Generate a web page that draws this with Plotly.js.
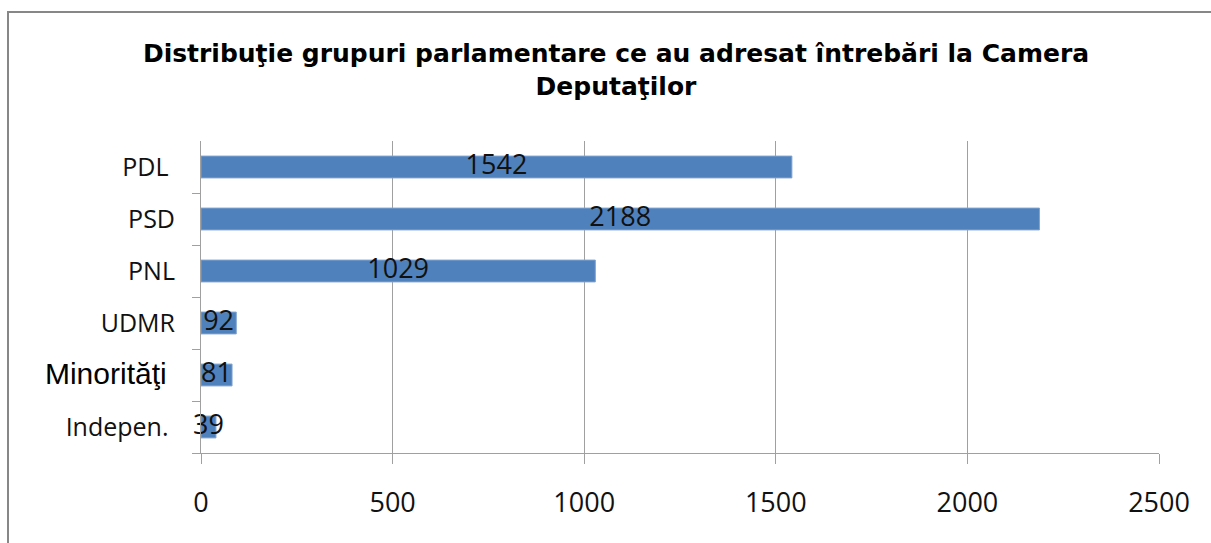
<!DOCTYPE html>
<html>
<head>
<meta charset="utf-8">
<script src="https://cdn.plot.ly/plotly-3.0.1.min.js"></script>
<style>
html,body{margin:0;padding:0;background:#fff;overflow:hidden;}
#wrap{position:relative;width:1211px;height:543px;overflow:hidden;}
#chart{position:absolute;left:0;top:0;width:1211px;height:543px;}
#frame{position:absolute;left:7px;top:11px;width:1400px;height:700px;border:2px solid #878787;pointer-events:none;box-sizing:border-box;}
</style>
</head>
<body>
<div id="wrap"><div id="chart"></div><div id="frame"></div></div>
<script>
const categories = ["PDL", "PSD", "PNL", "UDMR", "Minorităţi", "Indepen."];
const tickLabels = ["PDL ", "PSD", "PNL", "UDMR", "<span style='font-family:Liberation Sans;font-size:30px;color:#000'>Minorităţi </span>", "Indepen. "];
const values = [1542, 2188, 1029, 92, 81, 39];
const xTicks = [0, 500, 1000, 1500, 2000, 2500];
const titleText = "Distribuţie grupuri parlamentare ce au adresat întrebări la Camera<br>Deputaţilor";

const barTrace = {
  type: 'bar',
  orientation: 'h',
  y: categories,
  x: values,
  width: 0.42,
  marker: {color: '#4F81BD', line: {color: '#7FA2CF', width: 1}},
  hoverinfo: 'none',
  showlegend: false
};
const labelTrace = {
  type: 'scatter',
  mode: 'text',
  y: categories,
  x: values.map(v => v / 2),
  text: values.map(String),
  textposition: 'middle center',
  textfont: {family: 'Open Sans', size: 27, color: '#111'},
  hoverinfo: 'none',
  showlegend: false,
  cliponaxis: false
};

const layout = {
  width: 1211, height: 543,
  margin: {l: 201, r: 52, t: 141, b: 90},
  paper_bgcolor: '#fff', plot_bgcolor: '#fff',
  title: {
    text: titleText,
    font: {family: 'DejaVu Sans', size: 25, color: '#000', weight: 'bold'},
    x: 616/1211, xref: 'container', xanchor: 'center',
    y: 1 - 62/543, yref: 'container', yanchor: 'top'
  },
  xaxis: {
    range: [0, 2500],
    tickvals: xTicks,
    ticktext: xTicks.map(String),
    showgrid: true, gridcolor: '#a0a0a0', gridwidth: 1,
    zeroline: false,
    showline: true, linecolor: '#a0a0a0', linewidth: 1,
    ticks: 'outside', ticklen: 10, tickcolor: '#a0a0a0',
    ticklabelstandoff: 16,
    tickfont: {family: 'Open Sans', size: 27, color: '#111'},
    fixedrange: true
  },
  yaxis: {
    type: 'category',
    categoryorder: 'array',
    categoryarray: categories.slice().reverse(),
    tickvals: categories,
    ticktext: tickLabels,
    showgrid: false, zeroline: false,
    showline: true, linecolor: '#a0a0a0', linewidth: 1,
    ticks: 'outside', ticklen: 8, tickcolor: '#a0a0a0',
    tickson: 'boundaries',
    ticklabelstandoff: 20,
    tickfont: {family: 'Open Sans', size: 25, color: '#111'},
    fixedrange: true
  },
  bargap: 0.58
};

Plotly.newPlot('chart', [barTrace, labelTrace], layout, {displayModeBar: false, staticPlot: true});
</script>
</body>
</html>
